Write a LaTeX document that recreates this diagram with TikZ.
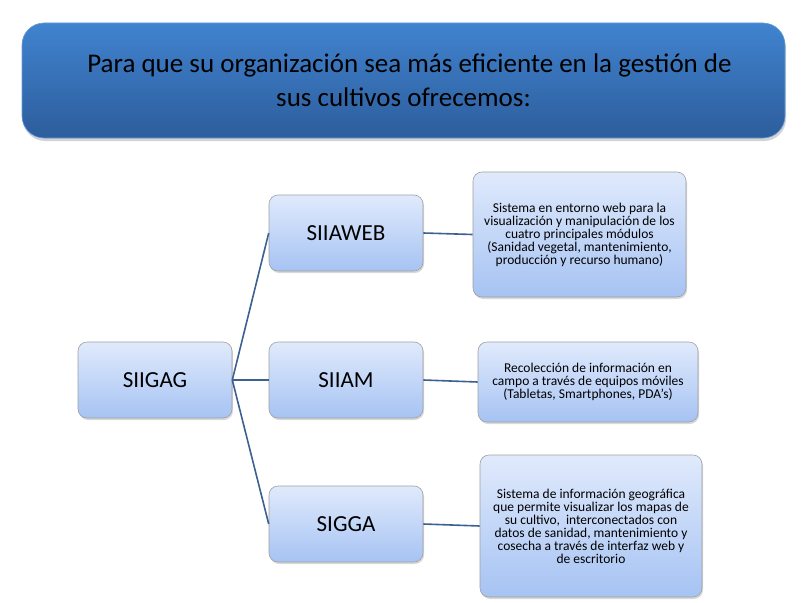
\documentclass[tikz,border=0pt]{standalone}
\usepackage{fontspec}
\setmainfont{Carlito}
\usetikzlibrary{shadows}

\definecolor{titletop}{HTML}{4083CF}
\definecolor{titlebot}{HTML}{2D5D9C}
\definecolor{boxtop}{HTML}{E0EAFC}
\definecolor{boxbot}{HTML}{A6C3F3}
\definecolor{linkblue}{HTML}{3C6190}

\begin{document}
\begin{tikzpicture}[x = 1pt, y = -1pt,
	every node/.style = {text = black},
	titlebox/.style = {rounded corners = 22pt, top color = titletop, bottom color = titlebot,
		draw = titletop!80!white, line width = 0.6pt,
		drop shadow = {shadow xshift = 1pt, shadow yshift = -3pt, opacity = 0.35},
		minimum width = 763pt, minimum height = 115pt, align = center,
		font = \fontsize{27}{34}\selectfont},
	sysbox/.style = {rounded corners = 9pt, top color = boxtop, bottom color = boxbot,
		draw = gray!75, line width = 0.6pt,
		drop shadow = {shadow xshift = 1pt, shadow yshift = -2pt, opacity = 0.3},
		minimum width = 154pt, minimum height = 76pt, font = \fontsize{23}{26}\selectfont},
	descbox/.style = {sysbox, align = center, inner sep = 2pt,
		font = \fontsize{13.5}{13}\selectfont},
	link/.style = {draw = linkblue, line width = 1.6pt}]

	% Frame
	
	\useasboundingbox (0, 0) rectangle (805, 602);

	% Heading
	
	\node [titlebox] (title) at (403.5, 80.5)
		{\hspace*{12pt}Para que su organización sea más eficiente en la gestión de\\sus cultivos ofrecemos:};

	% Systems
	
	\node [sysbox] (siigag)  at (155, 380) {SIIGAG};
	\node [sysbox] (siiaweb) at (346, 233) {SIIAWEB};
	\node [sysbox] (siiam)   at (346, 380) {SIIAM};
	\node [sysbox] (sigga)   at (346, 524) {SIGGA};

	% Descriptions
	
	\node [descbox, minimum width = 213pt, minimum height = 125pt] (webinfo) at (579.5, 234.5)
		{Sistema en entorno web para la\\visualización y manipulación de los\\cuatro principales módulos\\(Sanidad vegetal, mantenimiento,\\producción y recurso humano)};
	\node [descbox, minimum width = 220pt, minimum height = 80pt] (aminfo) at (588, 382)
		{Recolección de información en\\campo a través de equipos móviles\\(Tabletas, Smartphones, PDA’s)};
	\node [descbox, minimum width = 222pt, minimum height = 142pt] (ggainfo) at (591, 526)
		{Sistema de información geográfica\\que permite visualizar los mapas de\\su cultivo, \ interconectados con\\datos de sanidad, mantenimiento y\\cosecha a través de interfaz web y\\de escritorio};

	% Links
	
	\begin{scope}[link]
	
		\draw (siigag.east) -- (siiaweb.west);
		\draw (siigag.east) -- (siiam.west);
		\draw (siigag.east) -- (sigga.west);
		\draw (siiaweb.east) -- (webinfo.west);
		\draw (siiam.east) -- (aminfo.west);
		\draw (sigga.east) -- (ggainfo.west);
	
	\end{scope}

\end{tikzpicture}
\end{document}
